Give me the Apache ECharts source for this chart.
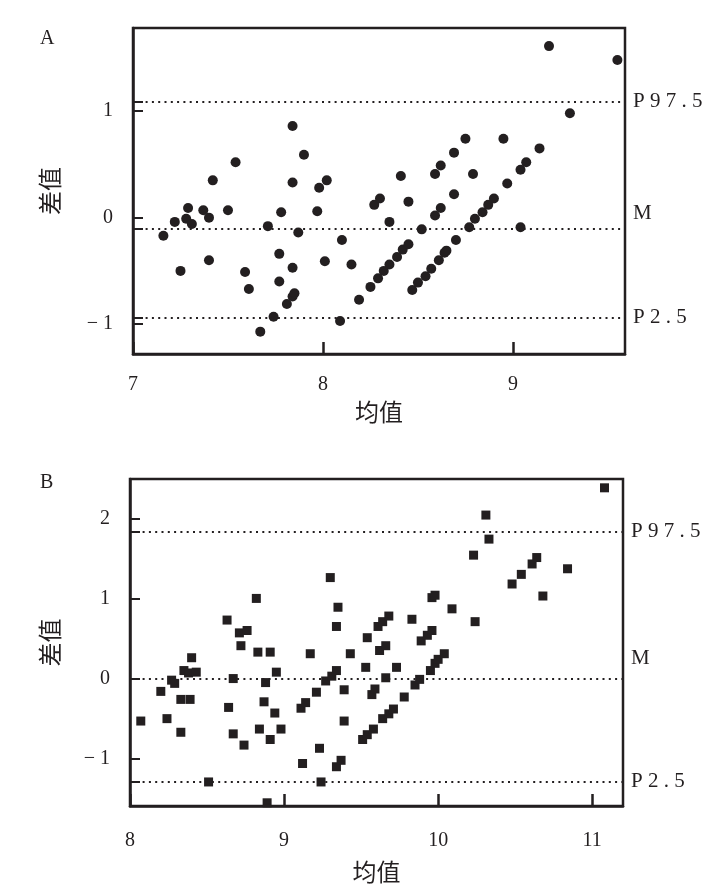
<!DOCTYPE html>
<html>
<head>
<meta charset="utf-8">
<script src="https://cdn.jsdelivr.net/npm/echarts@6/dist/echarts.min.js"></script>
<style>
html,body{margin:0;padding:0;background:#fff;}
#c{width:715px;height:892px;}
</style>
</head>
<body>
<div id="c"></div>
<script>
// Panel A data (均值 vs 差值)
const aMean = [7.16,7.22,7.25,7.28,7.29,7.31,7.37,7.40,7.40,7.42,
  7.50,7.54,7.59,7.61,7.67,7.71,7.74,7.77,7.77,7.78,
  7.81,7.84,7.84,7.84,7.84,7.85,7.87,7.90,7.97,7.98,
  8.01,8.02,8.09,8.10,8.15,8.19,8.25,8.27,8.29,8.30,
  8.32,8.35,8.35,8.39,8.41,8.42,8.45,8.45,8.47,8.50,
  8.52,8.54,8.57,8.59,8.59,8.61,8.62,8.62,8.64,8.65,
  8.69,8.69,8.70,8.75,8.77,8.79,8.80,8.84,8.87,8.90,
  8.95,8.97,9.04,9.04,9.07,9.14,9.19,9.30,9.55];
const aDiff = [-0.17,-0.04,-0.50,-0.01,0.09,-0.06,0.07,0.00,-0.40,0.35,
  0.07,0.52,-0.51,-0.67,-1.07,-0.08,-0.93,-0.34,-0.60,0.05,
  -0.81,0.86,-0.47,0.33,-0.74,-0.71,-0.14,0.59,0.06,0.28,
  -0.41,0.35,-0.97,-0.21,-0.44,-0.77,-0.65,0.12,-0.57,0.18,
  -0.50,-0.44,-0.04,-0.37,0.39,-0.30,-0.25,0.15,-0.68,-0.61,
  -0.11,-0.55,-0.48,0.02,0.41,-0.40,0.09,0.49,-0.33,-0.31,
  0.61,0.22,-0.21,0.74,-0.09,0.41,-0.01,0.05,0.12,0.18,
  0.74,0.32,0.45,-0.09,0.52,0.65,1.61,0.98,1.48];
const aRefValues = [1.09, -0.10, -0.94];
const aRefLabels = ['P 9 7 . 5', 'M', 'P 2 . 5'];
const aXRange = [7, 9.59];
const aYRange = [-1.28, 1.78];
const aYLabels = [-1, 0, 1];

// Panel B data
const bMean = [8.07,8.20,8.24,8.27,8.29,8.33,8.33,8.35,8.38,8.39,
  8.40,8.43,8.51,8.63,8.64,8.67,8.67,8.71,8.72,8.74,
  8.76,8.82,8.83,8.84,8.87,8.88,8.89,8.91,8.91,8.94,
  8.95,8.98,9.11,9.12,9.14,9.17,9.21,9.23,9.24,9.27,
  9.30,9.31,9.34,9.34,9.34,9.35,9.37,9.39,9.39,9.43,
  9.51,9.53,9.54,9.54,9.57,9.58,9.59,9.61,9.62,9.64,
  9.64,9.66,9.66,9.68,9.68,9.71,9.73,9.78,9.83,9.85,
  9.88,9.89,9.93,9.95,9.96,9.96,9.98,9.98,10.00,10.04,
  10.09,10.23,10.24,10.31,10.33,10.48,10.54,10.61,10.64,10.68,
  10.84,11.08];
const bDiff = [-0.53,-0.16,-0.50,-0.02,-0.06,-0.26,-0.67,0.10,0.07,-0.26,
  0.26,0.08,-1.29,0.73,-0.36,0.00,-0.69,0.57,0.41,-0.83,
  0.60,1.00,0.33,-0.63,-0.29,-0.05,-1.55,0.33,-0.76,-0.43,
  0.08,-0.63,-0.37,-1.06,-0.30,0.31,-0.17,-0.87,-1.29,-0.03,
  1.26,0.03,0.65,0.10,-1.10,0.89,-1.02,-0.14,-0.53,0.31,
  -0.76,0.14,0.51,-0.70,-0.20,-0.63,-0.13,0.65,0.35,0.71,
  -0.50,0.41,0.01,0.78,-0.44,-0.38,0.14,-0.23,0.74,-0.08,
  -0.01,0.47,0.54,0.10,0.60,1.01,1.04,0.19,0.24,0.31,
  0.87,1.54,0.71,2.04,1.74,1.18,1.30,1.43,1.51,1.03,
  1.37,2.38];
const bRefValues = [1.83, 0, -1.29];
const bRefLabels = ['P 9 7 . 5', 'M', 'P 2 . 5'];
const bXRange = [8, 11.2];
const bYRange = [-1.59, 2.49];
const bYLabels = [-1, 0, 1, 2];
const xTickStep = 1;

const INK = '#231f20';
const SERIF = 'Liberation Serif';
const CJK = 'Noto Sans CJK SC';

function fmt(v) { return v < 0 ? '\u2212 ' + Math.abs(v) : String(v); }

function xAxisCfg(gi, range, margin, nameGap) {
  return {
    type: 'value', gridIndex: gi, min: range[0], max: range[1], interval: xTickStep,
    position: 'bottom',
    axisLine: { show: true, onZero: false, lineStyle: { color: INK, width: 2.5 } },
    axisTick: { show: true, inside: true, length: 12, lineStyle: { color: INK, width: 2.5 } },
    axisLabel: { showMaxLabel: false, margin: margin, fontSize: 20, fontFamily: SERIF, color: INK, formatter: fmt },
    splitLine: { show: false },
    name: '均值', nameLocation: 'middle', nameGap: nameGap,
    nameTextStyle: { fontSize: 24, fontFamily: CJK, color: INK }
  };
}
function yAxisCfg(gi, range, labels, refs, nameGap) {
  return {
    type: 'value', gridIndex: gi, min: range[0], max: range[1], position: 'left',
    axisLine: { show: true, onZero: false, lineStyle: { color: INK, width: 2.5 } },
    axisTick: { show: true, inside: true, length: 10, customValues: labels.concat(refs),
      lineStyle: { color: INK, width: 2 } },
    axisLabel: { customValues: labels, margin: 20, fontSize: 20, fontFamily: SERIF, color: INK, formatter: fmt },
    splitLine: { show: false },
    name: '差值', nameLocation: 'middle', nameGap: nameGap,
    nameTextStyle: { fontSize: 24, fontFamily: CJK, color: INK }
  };
}
function markLineCfg(refs, labels, mShift) {
  return {
    silent: true, symbol: 'none', animation: false,
    lineStyle: { color: INK, width: 2, type: [2, 4.3] },
    label: { show: true, position: 'end', distance: 8, fontSize: 21, fontFamily: SERIF, color: INK },
    data: refs.map((v, i) => ({
      yAxis: v,
      label: i === 1
        ? { formatter: labels[i] + '\n ', lineHeight: mShift * 2 }
        : { formatter: labels[i] }
    }))
  };
}

const chart = echarts.init(document.getElementById('c'), null, { renderer: 'canvas' });
chart.setOption({
  animation: false,
  backgroundColor: '#fff',
  title: [
    { text: 'A', left: 35, top: 24, textStyle: { fontSize: 20, fontWeight: 'normal', fontFamily: SERIF, color: INK } },
    { text: 'B', left: 35, top: 468, textStyle: { fontSize: 20, fontWeight: 'normal', fontFamily: SERIF, color: INK } }
  ],
  grid: [
    { left: 133, top: 28, width: 492, height: 326, show: true, borderColor: INK, borderWidth: 2.5, backgroundColor: 'transparent' },
    { left: 130, top: 479, width: 493, height: 327, show: true, borderColor: INK, borderWidth: 2.5, backgroundColor: 'transparent' }
  ],
  xAxis: [
    xAxisCfg(0, aXRange, 21, 46),
    xAxisCfg(1, bXRange, 25, 54)
  ],
  yAxis: [
    yAxisCfg(0, aYRange, aYLabels, aRefValues, 71),
    yAxisCfg(1, bYRange, bYLabels, bRefValues, 68)
  ],
  series: [
    {
      type: 'scatter', xAxisIndex: 0, yAxisIndex: 0, symbol: 'circle', symbolSize: 10,
      itemStyle: { color: INK, opacity: 1 },
      data: aMean.map((x, i) => [x, aDiff[i]]),
      markLine: markLineCfg(aRefValues, aRefLabels, 15)
    },
    {
      type: 'scatter', xAxisIndex: 1, yAxisIndex: 1, symbol: 'rect', symbolSize: 9,
      itemStyle: { color: INK, opacity: 1 },
      data: bMean.map((x, i) => [x, bDiff[i]]),
      markLine: markLineCfg(bRefValues, bRefLabels, 20)
    }
  ]
});
</script>
</body>
</html>
